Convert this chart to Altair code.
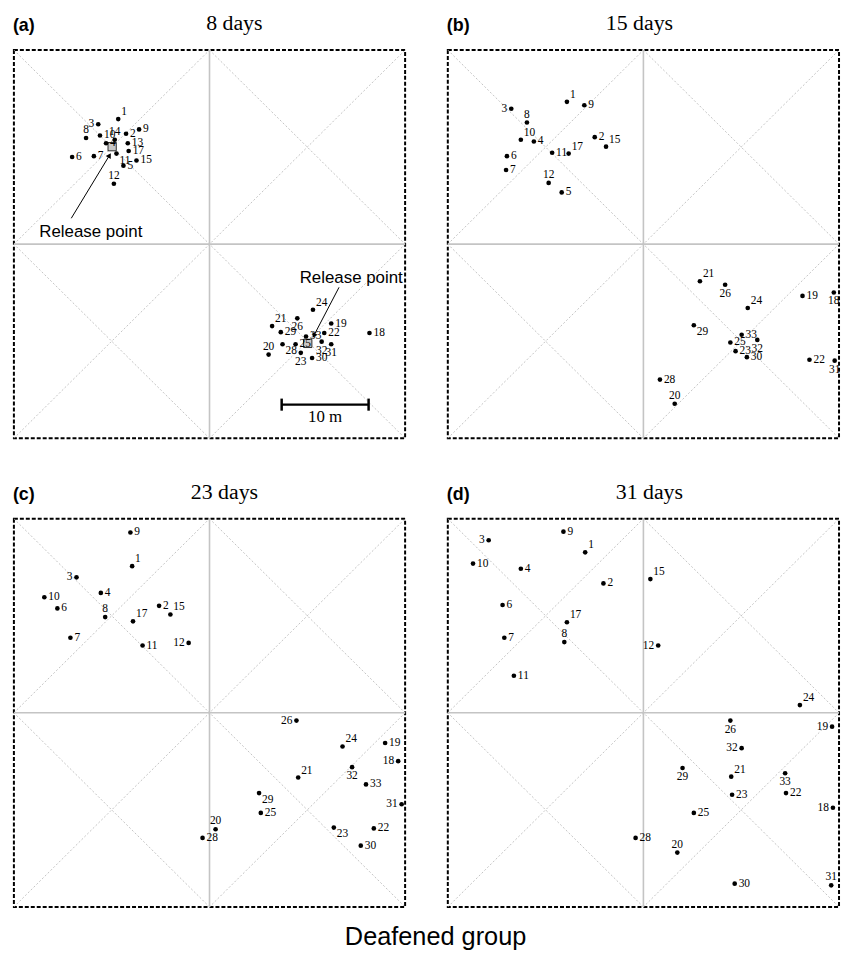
import math
import altair as alt
import pandas as pd

W, H = 394, 391          # plot area of each panel (px)
SPAN = 45.0              # metres across each arena

# ---------------- (a) 8 days ----------------
A_ID = [1, 2, 3, 4, 5, 6, 7, 8, 9, 10, 11, 12, 13, 14, 15, 17,
        18, 19, 20, 21, 22, 23, 24, 25, 26, 28, 29, 30, 31, 32, 33]
A_X = [12.0, 12.9, 9.7, 10.6, 12.6, 6.7, 9.2, 8.3, 14.4, 9.9, 11.8, 11.5, 13.1, 11.6, 14.1, 13.2,
       40.9, 36.5, 29.3, 29.7, 35.7, 33.0, 34.4, 32.4, 32.6, 30.9, 30.7, 34.3, 36.5, 35.4, 33.6]
A_Y = [37.0, 35.3, 36.4, 34.2, 31.6, 32.6, 32.7, 34.8, 35.8, 35.1, 33.0, 29.5, 34.2, 34.6, 32.2, 33.3,
       12.2, 13.3, 9.7, 13.0, 12.2, 9.9, 14.9, 10.9, 13.9, 10.9, 12.3, 9.3, 10.9, 11.2, 11.8]
A_LAB = ["ar", "r", "l", "r", "r", "r", "r", "a", "r", "r", "br", "a", "r", "a", "r", "r",
         "r", "r", "a", "ar", "r", "b", "ar", "r", "b", "br", "r", "r", "b", "b", "r"]

# release points, arrows, scale bar (panel a only)
REL_X = [11.3, 33.8]
REL_Y = [33.8, 11.0]
ARROW_TAIL_X = [6.6, 37.4]
ARROW_TAIL_Y = [25.5, 17.5]
ARROW_HEAD_X = [11.0, 34.5]
ARROW_HEAD_Y = [32.8, 11.9]
REL_TEXT_X = [8.85, 38.8]
REL_TEXT_Y = [23.9, 18.6]
REL_TEXT = ["Release point", "Release point"]
SCALE_X = [30.8, 40.8]
SCALE_Y = 3.9
SCALE_LABEL = "10 m"

# ---------------- (b) 15 days ----------------
B_ID = [1, 2, 3, 4, 5, 6, 7, 8, 9, 10, 11, 12, 15, 17,
        18, 19, 20, 21, 22, 23, 24, 25, 26, 28, 29, 30, 31, 32, 33]
B_X = [13.7, 16.9, 7.3, 9.9, 13.1, 6.8, 6.7, 9.1, 15.7, 8.4, 12.0, 11.6, 18.2, 13.9,
       44.4, 40.8, 26.1, 29.0, 41.6, 33.1, 34.5, 32.5, 31.9, 24.4, 28.3, 34.4, 44.5, 35.6, 33.8]
B_Y = [39.0, 34.9, 38.2, 34.4, 28.5, 32.7, 31.1, 36.6, 38.6, 34.6, 33.1, 29.6, 33.8, 33.0,
       16.9, 16.5, 4.0, 18.2, 9.1, 10.1, 15.1, 11.1, 17.8, 6.8, 13.1, 9.4, 9.0, 11.4, 12.0]
B_LAB = ["ar", "r", "l", "r", "r", "r", "r", "a", "r", "ar", "r", "a", "ar", "ar",
         "b", "r", "a", "ar", "r", "r", "ar", "r", "b", "r", "br", "r", "b", "b", "r"]

# ---------------- (c) 23 days ----------------
C_ID = [1, 2, 3, 4, 6, 7, 8, 9, 10, 11, 12, 15, 17,
        18, 19, 20, 21, 22, 23, 24, 25, 26, 28, 29, 30, 31, 32, 33]
C_X = [13.6, 16.7, 7.2, 10.0, 5.0, 6.5, 10.5, 13.4, 3.5, 14.8, 20.1, 18.0, 13.7,
       44.2, 42.7, 23.2, 32.7, 41.4, 36.8, 37.8, 28.4, 32.5, 21.7, 28.2, 39.9, 44.6, 38.9, 40.5]
C_Y = [39.5, 34.9, 38.2, 36.4, 34.6, 31.2, 33.6, 43.4, 35.9, 30.3, 30.6, 33.9, 33.1,
       16.9, 19.0, 9.0, 15.0, 9.1, 9.2, 18.6, 10.9, 21.6, 8.0, 13.2, 7.1, 11.9, 16.2, 14.2]
C_LAB = ["ar", "r", "l", "r", "r", "r", "a", "r", "r", "r", "l", "ar", "ar",
         "l", "r", "a", "ar", "r", "br", "ar", "r", "l", "r", "br", "r", "l", "b", "r"]

# ---------------- (d) 31 days ----------------
D_ID = [1, 2, 3, 4, 6, 7, 8, 9, 10, 11, 12, 15, 17,
        18, 19, 20, 21, 22, 23, 24, 25, 26, 28, 29, 30, 31, 32, 33]
D_X = [15.8, 17.9, 4.7, 8.4, 6.3, 6.5, 13.4, 13.3, 2.9, 7.6, 24.2, 23.3, 13.7,
       44.3, 44.2, 26.4, 32.6, 38.9, 32.7, 40.5, 28.3, 32.5, 21.6, 27.0, 33.0, 44.1, 33.8, 38.8]
D_Y = [41.1, 37.5, 42.5, 39.2, 35.0, 31.2, 30.7, 43.5, 39.8, 26.8, 30.3, 38.0, 33.0,
       11.5, 20.9, 6.3, 15.1, 13.2, 13.0, 23.4, 10.9, 21.6, 8.0, 16.1, 2.7, 2.5, 18.4, 15.5]
D_LAB = ["ar", "r", "l", "r", "r", "r", "a", "r", "r", "r", "l", "ar", "ar",
         "l", "l", "a", "ar", "r", "r", "ar", "r", "b", "r", "b", "r", "a", "l", "b"]

TITLES = ["8 days", "15 days", "23 days", "31 days"]
TITLE_DX = [25, -4, 15, 6]      # horizontal shift of each panel heading from centre (px)
LETTERS = ["(a)", "(b)", "(c)", "(d)"]
GROUP_TITLE = "Deafened group"

SERIF = "Liberation Serif"
SANS = "Liberation Sans"

xs = alt.Scale(domain=[0, SPAN], nice=False, zero=False)
ys = alt.Scale(domain=[0, SPAN], nice=False, zero=False)

h = SPAN / 2
grid_center = pd.DataFrame({
    "x": [h, 0], "y": [0, h], "x2": [h, SPAN], "y2": [SPAN, h]})
grid_diag = pd.DataFrame({
    "x": [0, 0, 0, h, SPAN, h],
    "y": [0, SPAN, h, SPAN, h, 0],
    "x2": [SPAN, SPAN, h, SPAN, h, 0],
    "y2": [SPAN, 0, SPAN, h, 0, h]})

LABEL_OFFSETS = {
    "r": (4, 0, "left"),
    "l": (-4, 0, "right"),
    "a": (0, -8, "center"),
    "b": (0, 9, "center"),
    "ar": (3, -7, "left"),
    "br": (3, 7, "left"),
}


def X(f):
    return alt.X(f, type="quantitative", scale=xs, axis=None)


def Y(f):
    return alt.Y(f, type="quantitative", scale=ys, axis=None)


def panel(ids, xv, yv, labs, title, tdx, letter, extras=None):
    df = pd.DataFrame({"id": ids, "x": xv, "y": yv, "lab": labs})
    layers = [
        alt.Chart(grid_diag).mark_rule(color="#b5b5b5", strokeWidth=0.8, strokeDash=[2, 2]).encode(
            x=X("x"), y=Y("y"), x2="x2", y2="y2"),
        alt.Chart(grid_center).mark_rule(color="#c4c4c4", strokeWidth=1.6).encode(
            x=X("x"), y=Y("y"), x2="x2", y2="y2"),
    ]
    if extras:
        layers += extras
    layers.append(
        alt.Chart(df).mark_circle(size=22, color="black", opacity=1).encode(x=X("x"), y=Y("y")))
    for code, (dx, dy, al) in LABEL_OFFSETS.items():
        layers.append(
            alt.Chart(df).transform_filter(alt.datum.lab == code).mark_text(
                font=SERIF, fontSize=11.5, color="black", dx=dx, dy=dy, align=al, baseline="middle"
            ).encode(x=X("x"), y=Y("y"), text="id:N"))
    layers.append(
        alt.Chart(pd.DataFrame({"t": [letter]})).mark_text(
            font=SANS, fontSize=18, fontWeight="bold", align="left", baseline="alphabetic", color="black"
        ).encode(x=alt.value(-1), y=alt.value(-19), text="t:N"))
    layers.append(
        alt.Chart(pd.DataFrame({"t": [title]})).mark_text(
            font=SERIF, fontSize=22, align="center", baseline="alphabetic", color="black"
        ).encode(x=alt.value(W / 2 + tdx), y=alt.value(-20), text="t:N"))
    return alt.layer(*layers).properties(width=W, height=H)


# extras for panel (a)
rel = pd.DataFrame({"x": REL_X, "y": REL_Y})
arrows = pd.DataFrame({"x": ARROW_TAIL_X, "y": ARROW_TAIL_Y, "x2": ARROW_HEAD_X, "y2": ARROW_HEAD_Y})
px_x = W / SPAN
px_y = H / SPAN
arrows["ang"] = [
    (math.degrees(math.atan2((hx - tx) * px_x, (hy - ty) * px_y)) + 360) % 360
    for tx, ty, hx, hy in zip(ARROW_TAIL_X, ARROW_TAIL_Y, ARROW_HEAD_X, ARROW_HEAD_Y)]
rel_text = pd.DataFrame({"x": REL_TEXT_X, "y": REL_TEXT_Y, "t": REL_TEXT})
scale_bar = pd.DataFrame({"x": [SCALE_X[0]], "x2": [SCALE_X[1]], "y": [SCALE_Y]})
scale_ends = pd.DataFrame({"x": SCALE_X, "y": [SCALE_Y - 0.7] * 2, "y2": [SCALE_Y + 0.7] * 2})
scale_lab = pd.DataFrame({"x": [(SCALE_X[0] + SCALE_X[1]) / 2], "y": [SCALE_Y - 1.4], "t": [SCALE_LABEL]})

extras_a = [
    alt.Chart(rel).mark_square(size=70, fill="#c8c8c8", stroke="black", strokeWidth=0.8, opacity=1).encode(
        x=X("x"), y=Y("y")),
    alt.Chart(arrows).mark_rule(color="black", strokeWidth=1).encode(x=X("x"), y=Y("y"), x2="x2", y2="y2"),
    alt.Chart(arrows).mark_point(shape="triangle-up", filled=True, size=35, color="black", opacity=1).encode(
        x=X("x2"), y=Y("y2"), angle=alt.Angle("ang:Q", scale=None)),
    alt.Chart(rel_text).mark_text(font=SANS, fontSize=17, color="black", baseline="middle").encode(
        x=X("x"), y=Y("y"), text="t:N"),
    alt.Chart(scale_bar).mark_rule(color="black", strokeWidth=2.5).encode(x=X("x"), x2="x2", y=Y("y")),
    alt.Chart(scale_ends).mark_rule(color="black", strokeWidth=2.5).encode(x=X("x"), y=Y("y"), y2="y2"),
    alt.Chart(scale_lab).mark_text(font=SERIF, fontSize=17, color="black", baseline="middle").encode(
        x=X("x"), y=Y("y"), text="t:N"),
]

pa = panel(A_ID, A_X, A_Y, A_LAB, TITLES[0], TITLE_DX[0], LETTERS[0], extras_a)
pb = panel(B_ID, B_X, B_Y, B_LAB, TITLES[1], TITLE_DX[1], LETTERS[1])
pc = panel(C_ID, C_X, C_Y, C_LAB, TITLES[2], TITLE_DX[2], LETTERS[2])
pd_ = panel(D_ID, D_X, D_Y, D_LAB, TITLES[3], TITLE_DX[3], LETTERS[3])

chart = alt.vconcat(
    alt.hconcat(pa, pb, spacing=39),
    alt.hconcat(pc, pd_, spacing=39),
    spacing=40,
).properties(
    title=alt.TitleParams(GROUP_TITLE, orient="bottom", anchor="middle", font=SANS, fontSize=25.5,
                          fontWeight="normal", offset=17, dx=9, color="black"),
    padding={"left": 12, "top": 8, "right": 0, "bottom": 0},
    background="white",
).configure_view(
    stroke="black", strokeWidth=2, strokeDash=[4, 2]
)

chart.save("out.html", embed_options={"renderer": "svg", "actions": False})
